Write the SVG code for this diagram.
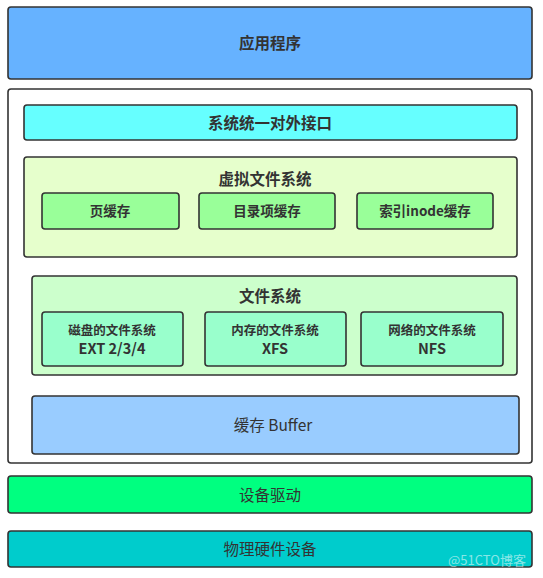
<svg xmlns="http://www.w3.org/2000/svg" width="543" height="578" viewBox="0 0 543 578">
<style>
rect{stroke:#333;stroke-width:1.6}
text{font-family:"Noto Sans CJK SC","Liberation Sans",sans-serif;fill:#333;text-anchor:middle;dominant-baseline:central}
.big{font-size:15.5px}
.b{font-weight:bold}
.sm{font-size:13.5px;font-weight:bold}
.xs{font-size:12.5px}
</style>
<rect x="0" y="0" width="543" height="578" fill="#fff" style="stroke:none"/>
<g id="app"><rect x="8" y="7" width="524" height="72" rx="3" fill="#66B2FF"/><text x="270" y="42" class="big b">应用程序</text></g>
<g id="kernel"><rect x="8" y="89" width="524" height="374" rx="3" fill="#fff"/></g>
<g id="interface"><rect x="24" y="105" width="493" height="35" rx="3" fill="#66FFFF"/><text x="270" y="122" class="big b">系统统一对外接口</text></g>
<g id="vfs"><rect x="24" y="157" width="493" height="100" rx="3" fill="#E6FFCC"/><text x="265" y="178" class="big b">虚拟文件系统</text></g>
<g id="pagecache"><rect x="42" y="193" width="137" height="36" rx="3" fill="#99FF99"/><text x="110" y="210" class="sm">页缓存</text></g>
<g id="dentrycache"><rect x="199" y="193" width="136" height="36" rx="3" fill="#99FF99"/><text x="267" y="210" class="sm">目录项缓存</text></g>
<g id="inodecache"><rect x="357" y="193" width="136" height="36" rx="3" fill="#99FF99"/><text x="425" y="210" class="sm">索引inode缓存</text></g>
<g id="fs"><rect x="32" y="276" width="485" height="99" rx="3" fill="#CCFFCC"/><text x="270" y="295" class="big b">文件系统</text></g>
<g id="diskfs"><rect x="42" y="312" width="141" height="54" rx="3" fill="#99FFCC"/><text x="112" y="329" class="xs b">磁盘的文件系统</text><text x="112" y="347" class="big b" style="font-size:14.5px">EXT 2/3/4</text></g>
<g id="memfs"><rect x="205" y="312" width="141" height="54" rx="3" fill="#99FFCC"/><text x="275" y="329" class="xs b">内存的文件系统</text><text x="275" y="347" class="big b" style="font-size:14.5px">XFS</text></g>
<g id="netfs"><rect x="361" y="312" width="142" height="54" rx="3" fill="#99FFCC"/><text x="432" y="329" class="xs b">网络的文件系统</text><text x="432" y="347" class="big b" style="font-size:14.5px">NFS</text></g>
<g id="buffer"><rect x="32" y="396" width="487" height="58" rx="3" fill="#99CCFF"/><text x="273" y="424" class="big">缓存 Buffer</text></g>
<g id="driver"><rect x="8" y="476" width="524" height="37" rx="3" fill="#00FF80"/><text x="270" y="494" class="big">设备驱动</text></g>
<g id="hardware"><rect x="8" y="531" width="524" height="36" rx="3" fill="#00CCCC"/><text x="270" y="548" class="big">物理硬件设备</text></g>
<g id="connectors"></g>
<text x="487" y="559" style="font-size:13px;fill:#ffffff;fill-opacity:0.55">@51CTO博客</text>
</svg>
